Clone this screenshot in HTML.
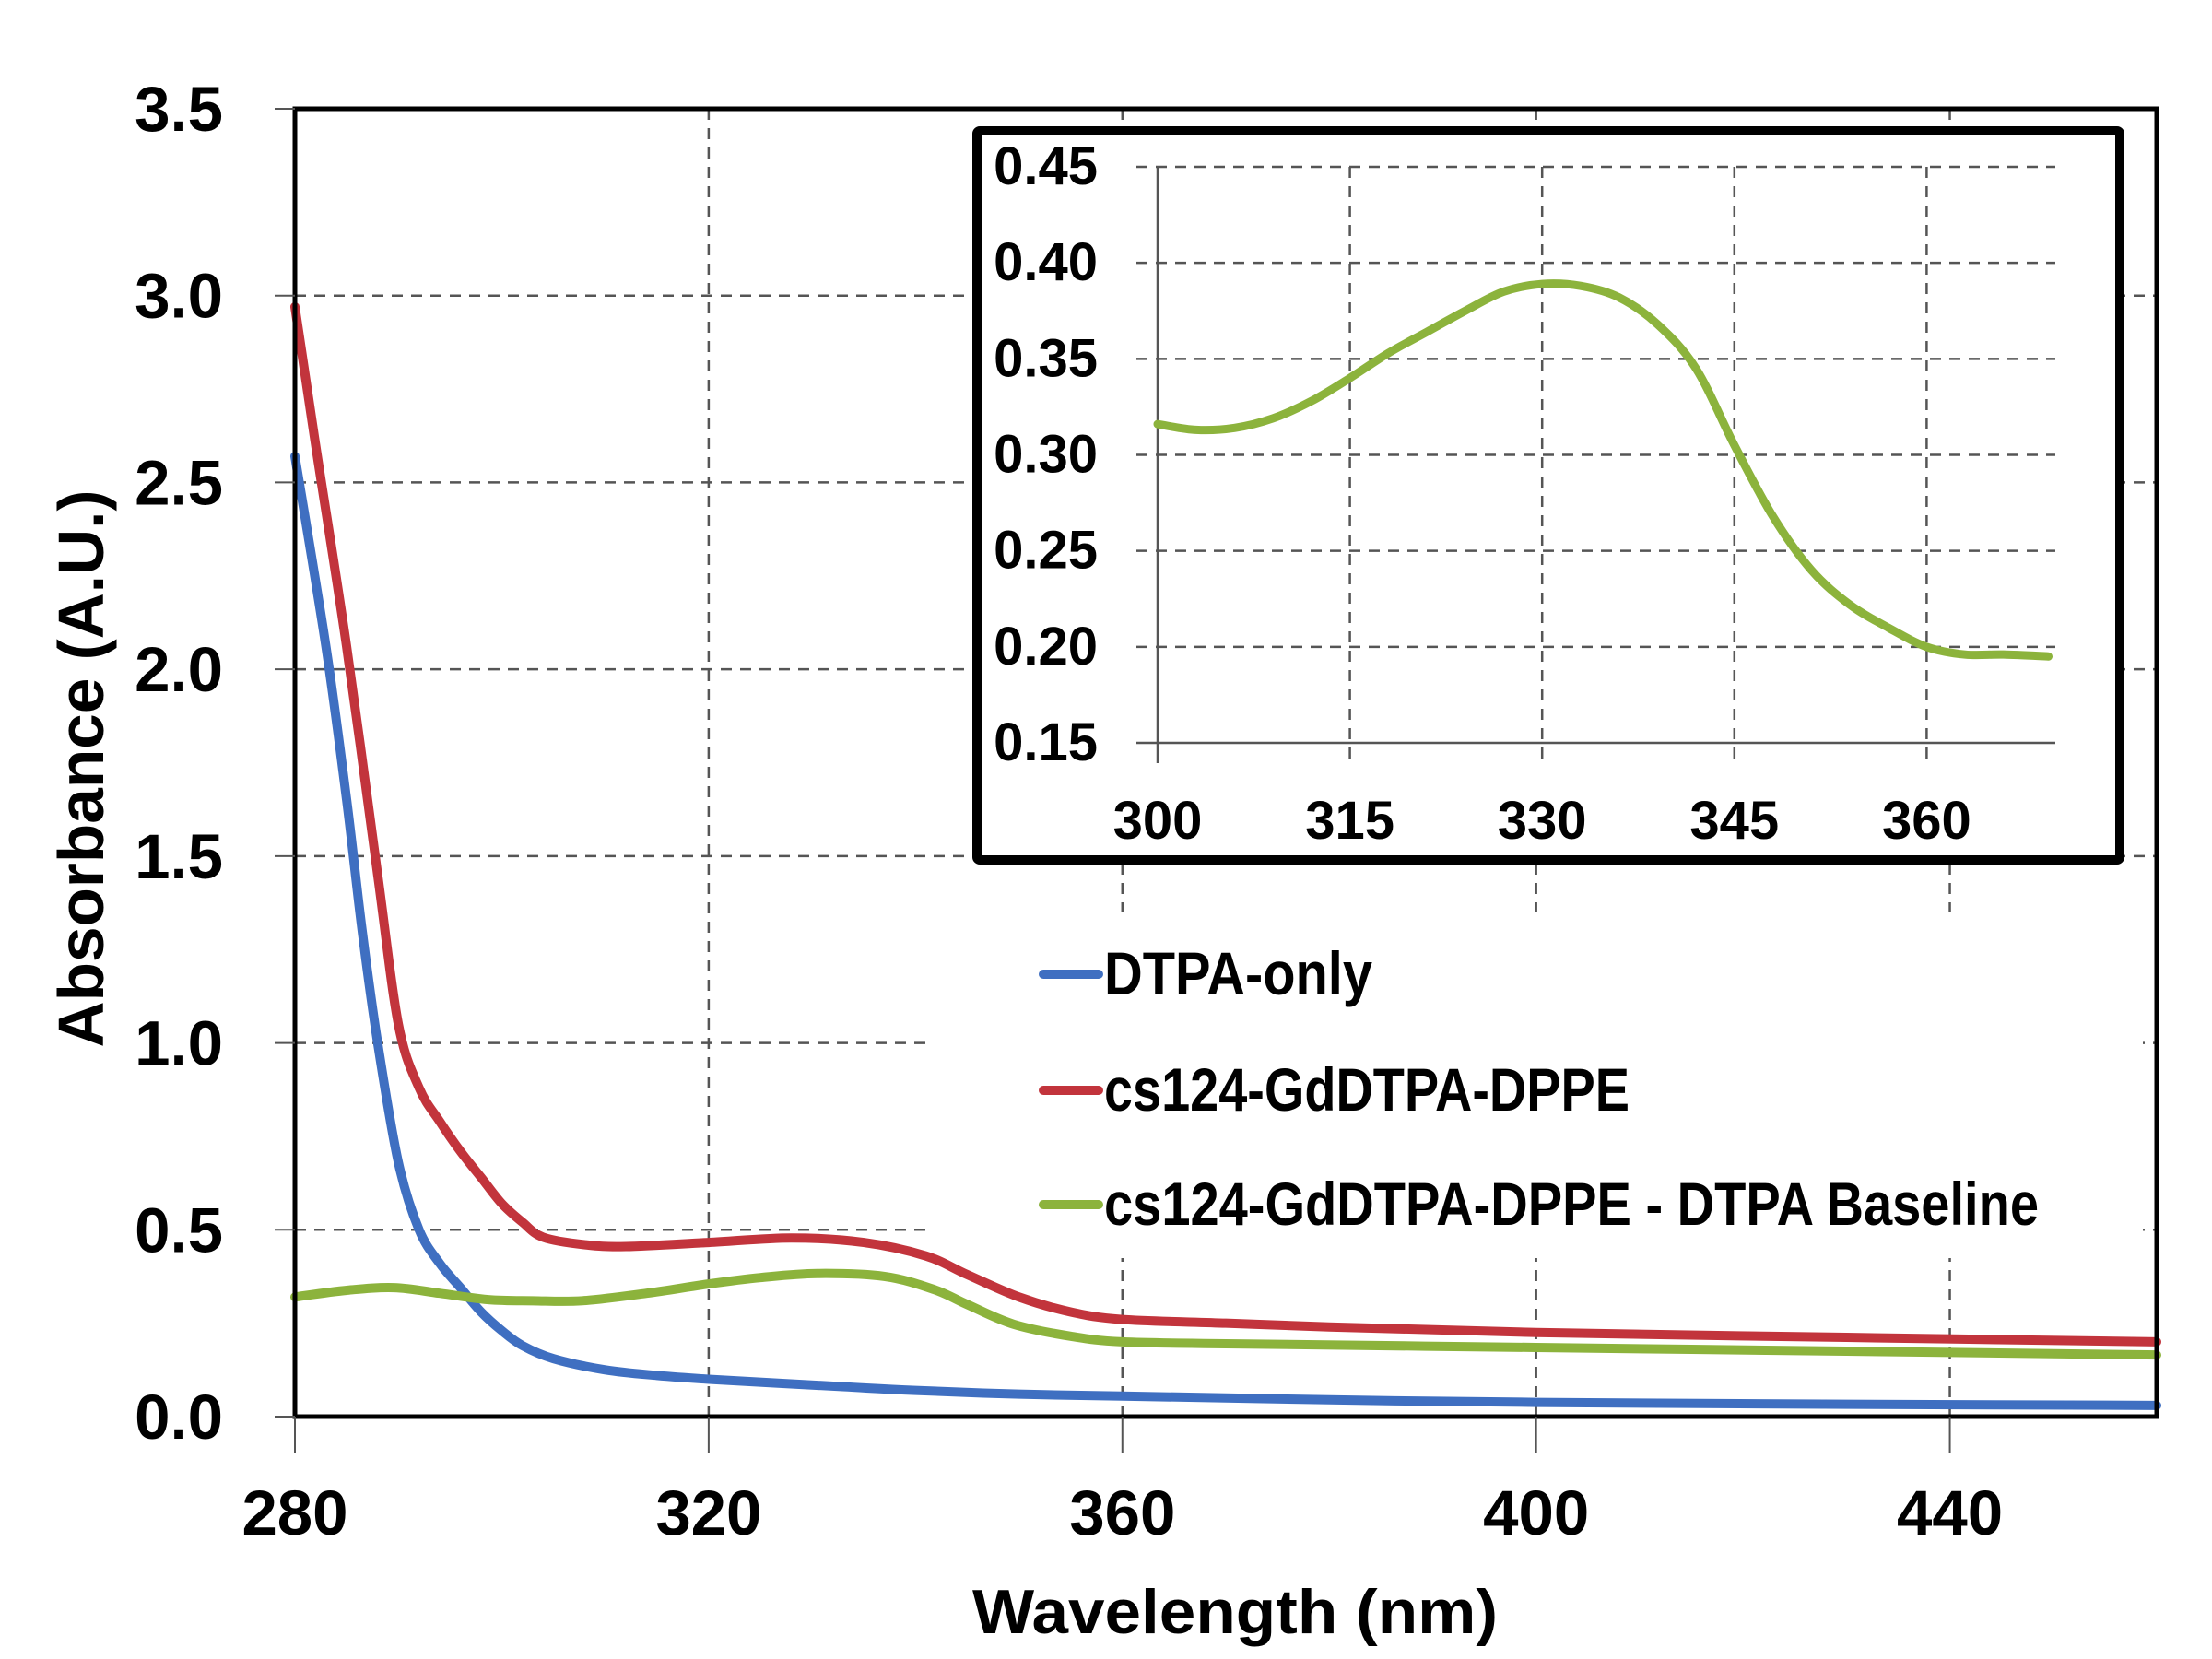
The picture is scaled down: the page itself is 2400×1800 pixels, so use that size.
<!DOCTYPE html>
<html><head><meta charset="utf-8"><style>
html,body{margin:0;padding:0;background:#fff;}
svg{display:block;}
text{font-family:"Liberation Sans",sans-serif;font-weight:bold;fill:#000;}
</style></head><body>
<svg id="chart" width="2400" height="1800" viewBox="0 0 2400 1800" xmlns="http://www.w3.org/2000/svg">
<g id="grid"></g>
<rect x="1005" y="990" width="1320" height="375" fill="#fff"/>
<g id="series"></g>
<g id="axes"></g>
<g id="legend"></g>
<g id="inset"></g>
<text x="1340" y="1772" font-size="68" text-anchor="middle" textLength="570" lengthAdjust="spacingAndGlyphs">Wavelength (nm)</text>
<text transform="translate(112,834) rotate(-90)" x="0" y="0" font-size="70" text-anchor="middle" textLength="605" lengthAdjust="spacingAndGlyphs">Absorbance (A.U.)</text>
</svg>
<script>
const wlBlue=[280,283,285,286.5,288,290,292,294,296,298,300,302,305,310,315,320,333,340,350,360,380,400,430,460];
const absBlue=[2.57,2.06,1.65,1.3,1.0,0.68,0.5,0.41,0.345,0.28,0.23,0.19,0.155,0.125,0.11,0.1,0.08,0.07,0.06,0.055,0.045,0.038,0.033,0.03];
const wlRed=[280,282,285,288,290,292,294,296,298,300,302,304,308,312,320,328,335,341,345,350,355,360,370,380,400,430,460];
const absRed=[2.97,2.6,2.06,1.45,1.05,0.88,0.79,0.71,0.64,0.57,0.52,0.48,0.46,0.455,0.466,0.478,0.466,0.43,0.38,0.32,0.28,0.26,0.25,0.24,0.225,0.212,0.2];
const wlGreen=[280,285,289.6,294,298.7,303,307.8,314,320,325,330.5,337,341.8,345,349.5,355,360,370,400,430,460];
const absGreen=[0.32,0.338,0.345,0.33,0.313,0.31,0.31,0.33,0.355,0.372,0.383,0.375,0.34,0.3,0.247,0.215,0.2,0.195,0.185,0.175,0.165];
const insetWl=[300,303,306,309,312,315,318,321,324,327,330,333,336,339,342,345,348,351,354,357,360,363,366,369.5];
const insetAbs=[0.316,0.313,0.314,0.319,0.328,0.34,0.353,0.364,0.375,0.385,0.389,0.388,0.382,0.368,0.345,0.305,0.268,0.24,0.222,0.21,0.2,0.196,0.196,0.195];
const yTicks=["0.0","0.5","1.0","1.5","2.0","2.5","3.0","3.5"];
const xTicks=["280","320","360","400","440"];
const insetYTicks=["0.15","0.20","0.25","0.30","0.35","0.40","0.45"];
const insetXTicks=["300","315","330","345","360"];
const legendLabels=["DTPA-only","cs124-GdDTPA-DPPE","cs124-GdDTPA-DPPE - DTPA Baseline"];

const NS="http://www.w3.org/2000/svg";
const L=320,R=2340,T=118,B=1537,X0=280,X1=460,Y0=0,Y1=3.5;
const xs=v=>L+(v-X0)/(X1-X0)*(R-L);
const ys=v=>B-(v-Y0)/(Y1-Y0)*(B-T);
const iL=1256,iB=806,iT=181,iX0=300,iStep=208.6/15,iY0=0.15,iY1=0.45,iR=2230;
const ixs=v=>iL+(v-iX0)*iStep;
const iys=v=>iB-(v-iY0)/(iY1-iY0)*(iB-iT);
function mk(tag,attrs,parent){const e=document.createElementNS(NS,tag);for(const k in attrs)e.setAttribute(k,attrs[k]);parent.appendChild(e);return e;}
function smooth(pts){let d="M"+pts[0][0]+","+pts[0][1];for(let i=0;i<pts.length-1;i++){const p0=pts[Math.max(0,i-1)],p1=pts[i],p2=pts[i+1],p3=pts[Math.min(pts.length-1,i+2)];const c1=[p1[0]+(p2[0]-p0[0])/6,p1[1]+(p2[1]-p0[1])/6],c2=[p2[0]-(p3[0]-p1[0])/6,p2[1]-(p3[1]-p1[1])/6];d+=" C"+c1[0]+","+c1[1]+" "+c2[0]+","+c2[1]+" "+p2[0]+","+p2[1];}return d;}

const grid=document.getElementById('grid');
yTicks.forEach(t=>{const y=ys(+t);if(+t>0&&+t<3.5){const l=mk('line',{x1:L,x2:R,y1:y,y2:y,stroke:'#555','stroke-width':2.5,'stroke-dasharray':'12,9'},grid);}});
xTicks.forEach(t=>{const x=xs(+t);if(+t>280){const l=mk('line',{x1:x,x2:x,y1:T,y2:B,stroke:'#555','stroke-width':2.5,'stroke-dasharray':'12,9'},grid);}});

const series=document.getElementById('series');
const defs=[[wlBlue,absBlue,'#3f6fc1','dtpa-only-line'],[wlRed,absRed,'#c2343c','cs124-line'],[wlGreen,absGreen,'#8cb33c','baseline-subtracted-line']];
defs.forEach(s=>{const pts=s[0].map((w,i)=>[xs(w),ys(s[1][i])]);const p=mk('path',{d:smooth(pts),fill:'none',stroke:s[2],'stroke-width':10,'stroke-linecap':'round','stroke-linejoin':'round'},series);});

const axes=document.getElementById('axes');
const fr=mk('rect',{x:L,y:T,width:R-L,height:B-T,fill:'none',stroke:'#000','stroke-width':5},axes);

yTicks.forEach(t=>{const y=ys(+t);mk('line',{x1:L-22,x2:L,y1:y,y2:y,stroke:'#555','stroke-width':2},axes);const tx=mk('text',{x:242,y:y+24,'font-size':69,'text-anchor':'end'},axes);tx.textContent=t;});
xTicks.forEach(t=>{const x=xs(+t);mk('line',{x1:x,x2:x,y1:B,y2:B+40,stroke:'#555','stroke-width':2},axes);const tx=mk('text',{x:x,y:1665,'font-size':69,'text-anchor':'middle'},axes);tx.textContent=t;});

const legend=document.getElementById('legend');
const lw=[291,570,1014],ly=[1057,1183,1307];
legendLabels.forEach((lab,i)=>{const ln=mk('line',{x1:1132,x2:1192,y1:ly[i],y2:ly[i],stroke:defs[i][2],'stroke-width':10,'stroke-linecap':'round'},legend);const tx=mk('text',{x:1198,y:ly[i]+22,'font-size':66,textLength:lw[i],lengthAdjust:'spacingAndGlyphs'},legend);tx.textContent=lab;});

const inset=document.getElementById('inset');
const ib=mk('rect',{x:1060,y:142,width:1240,height:791,fill:'#fff',stroke:'#000','stroke-width':10,rx:3},inset);

insetYTicks.forEach(t=>{const y=iys(+t);const l=mk('line',{x1:1233,x2:iR,y1:y,y2:y,stroke:'#555','stroke-width':2.5,'stroke-dasharray':+t>0.15?'12,9':'none'},inset);const tx=mk('text',{x:1191,y:y+19,'font-size':58,'text-anchor':'end'},inset);tx.textContent=t;});
insetXTicks.forEach(t=>{const x=ixs(+t);const l=mk('line',{x1:x,x2:x,y1:iT,y2:828,stroke:'#555','stroke-width':2.5,'stroke-dasharray':+t>300?'12,9':'none'},inset);const tx=mk('text',{x:x,y:910,'font-size':58,'text-anchor':'middle'},inset);tx.textContent=t;});
const ipts=insetWl.map((w,i)=>[ixs(w),iys(insetAbs[i])]);
const ip=mk('path',{d:smooth(ipts),fill:'none',stroke:'#8cb33c','stroke-width':9,'stroke-linecap':'round'},inset);

</script>
</body></html>
